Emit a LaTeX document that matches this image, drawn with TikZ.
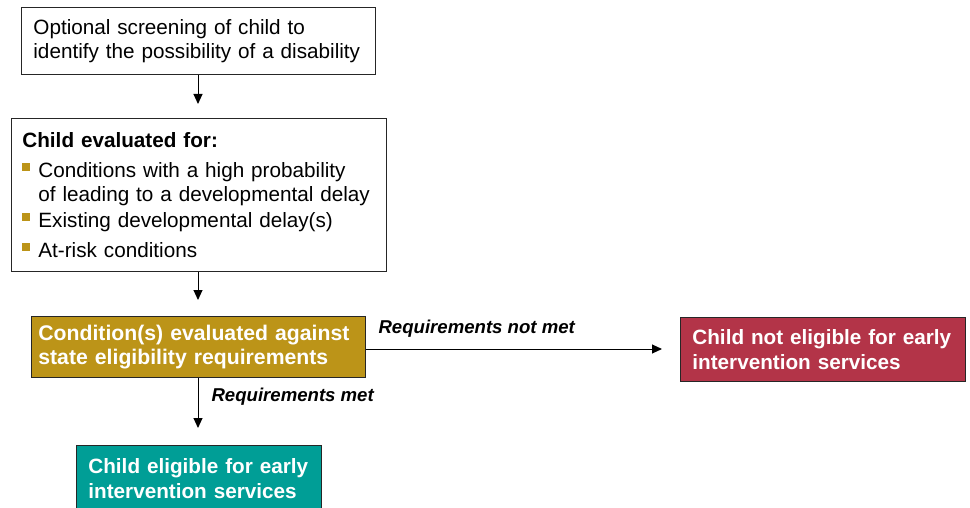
\documentclass[tikz,border=0pt]{standalone}
\usepackage{fontspec}
\setmainfont{Liberation Sans}
\usetikzlibrary{arrows.meta}

\definecolor{gold}{HTML}{BC9418}
\definecolor{wine}{HTML}{B33448}
\definecolor{tealbox}{HTML}{009E96}

\newcommand{\sqbullet}{\makebox[16pt][l]{\textcolor{gold}{\rule[6.5pt]{8pt}{8pt}}}}

\tikzset{
	box/.style={draw=black!85, line width=0.8pt, anchor=north west, align=left, inner xsep=12pt, inner ysep=0pt, font=\fontsize{20.7}{24}\selectfont},
	fillbox/.style={box, text=white, font=\fontsize{20.7}{24.5}\selectfont\bfseries},
	arr/.style={-{Triangle[length=10pt,width=9pt]}, line width=1pt},
	lbl/.style={anchor=west, font=\fontsize{18.6}{21}\selectfont\bfseries\itshape}
}

\begin{document}
\begin{tikzpicture}[x=1pt,y=-1pt]
		\useasboundingbox (0,0) rectangle (970,508);

		\node[box, minimum width=354pt, minimum height=67pt, text width=330pt] (screen) at (21,7)
			{Optional screening of child to\\identify the possibility of a disability};
		\node[box, inner xsep=11pt, minimum width=375pt, minimum height=153pt, text width=353pt] (eval) at (11,118)
			{{\bfseries Child evaluated for:}\\[6pt]
			\sqbullet Conditions with a high probability\\
			\hspace*{16pt}of leading to a developmental delay\\[2pt]
			\sqbullet Existing developmental delay(s)\\[6pt]
			\sqbullet At-risk conditions};
		\node[fillbox, fill=gold, inner xsep=7pt, minimum width=334pt, minimum height=61pt, text width=320pt,
			font=\fontsize{21.2}{24.5}\selectfont\bfseries] (cond) at (31,316)
			{Condition(s) evaluated against\\state eligibility requirements};
		\node[fillbox, fill=wine, minimum width=285pt, minimum height=64pt, text width=261pt] (noelig) at (680,317)
			{\mbox{Child not eligible for early}\\intervention services};
		\node[fillbox, fill=tealbox, minimum width=245pt, minimum height=66pt, text width=221pt] (elig) at (76,445)
			{\mbox{Child eligible for early}\\intervention services};

		\coordinate (e1) at (198,104);
		\coordinate (e2) at (198,300);
		\coordinate (e3) at (662,349);
		\coordinate (e4) at (198,428);

		\draw[arr] (screen.south -| e1) -- (e1);
		\draw[arr] (eval.south -| e2) -- (e2);
		\draw[arr] (cond.east |- e3) -- (e3); % Not met.
		\draw[arr] (cond.south -| e4) -- (e4); % Met.

		\node[lbl] (notmet) at (375,329) {Requirements not met};
		\node[lbl] (met) at (208,397) {Requirements met};
	\end{tikzpicture}
\end{document}
